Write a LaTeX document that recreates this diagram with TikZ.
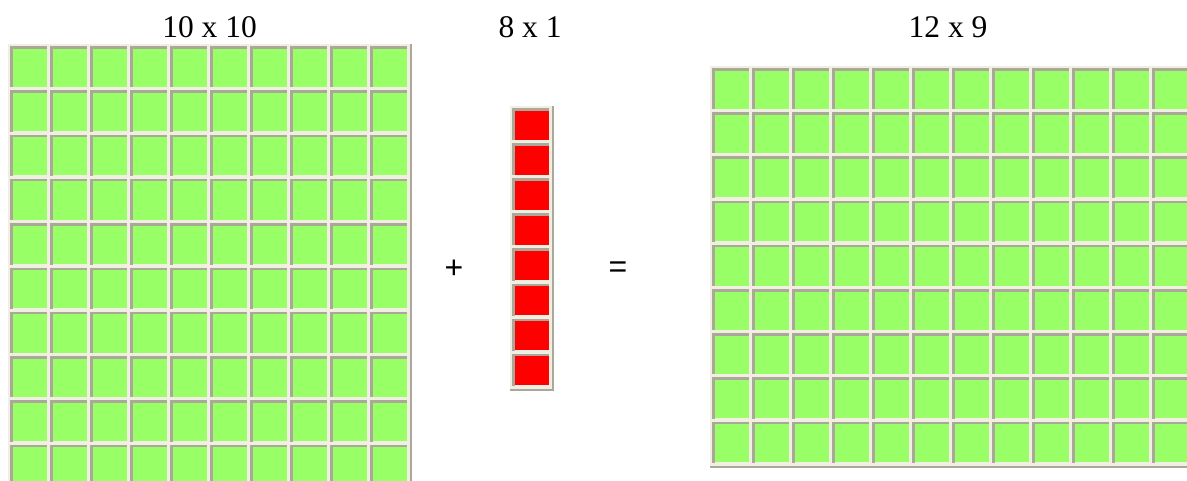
\documentclass[tikz,border=0pt]{standalone}
\usepackage{fontspec}
\setmainfont{Liberation Serif}
\newfontfamily\arialfont{Liberation Sans}
\definecolor{cellgreen}{HTML}{99FF66}
\definecolor{cellred}{HTML}{FF0000}
\definecolor{bevdark}{HTML}{ACA899}
\definecolor{bevlight}{HTML}{F1EFE2}
\tikzset{
  lbl/.style={font=\fontsize{31.5}{34}\selectfont, inner sep=0pt, anchor=base},
  opsign/.style={font=\arialfont\fontsize{32}{34}\selectfont, inner sep=0pt},
}
% #1 x0, #2 y0, #3 cols, #4 rows, #5 xpitch, #6 ypitch, #7 colour
\newcommand{\bevtable}[7]{%
  \pgfmathsetmacro{\tw}{#3*#5+2}%
  \pgfmathsetmacro{\th}{#4*#6+2}%
  \fill[bevdark] (#1,#2) rectangle ++(\tw+2,\th+2);
  \fill[bevlight] (#1,#2) rectangle ++(\tw,\th);
  \foreach \i in {0,...,\numexpr#3-1\relax}{
    \foreach \j in {0,...,\numexpr#4-1\relax}{
      \pgfmathsetmacro{\ax}{#1+2+\i*#5}
      \pgfmathsetmacro{\ay}{#2+2+\j*#6}
      \fill[bevdark] (\ax,\ay) rectangle ++(#5-3,#6-3);
      \fill[bevlight] (\ax+2.5,\ay+2.5) rectangle ++(#5-4.5,#6-4.5);
      \fill[#7] (\ax+2.5,\ay+2.5) rectangle ++(#5-6,#6-6);
    }
  }%
}
\begin{document}
\begin{tikzpicture}[x=1pt,y=-1pt]
\useasboundingbox (0,0) rectangle (1187,480);
\fill[white] (0,0) rectangle (1187,480);
\begin{scope}
\clip (0,0) rectangle (1187,480);
\bevtable{8}{44}{10}{10}{40}{44.3}{cellgreen}
\bevtable{510}{106}{1}{8}{40}{35.1}{cellred}
\bevtable{710}{66}{12}{9}{40}{44.2}{cellgreen}
\end{scope}
\node[lbl] (l1) at (209.5,37) {10 x 10};
\node[lbl] (l2) at (530,37) {8 x 1};
\node[lbl] (l3) at (948,37) {12 x 9};
\node[opsign] (plus) at (454,269.5) {+};
\node[opsign] (eq) at (618,269.5) {=};
\end{tikzpicture}
\end{document}
